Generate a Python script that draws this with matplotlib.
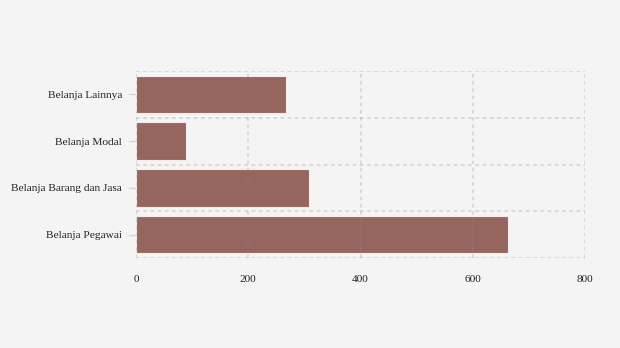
import matplotlib
matplotlib.use("Agg")
import matplotlib.pyplot as plt
import numpy as np

categories = ["Belanja Pegawai", "Belanja Barang dan Jasa", "Belanja Modal", "Belanja Lainnya"]
values = [663, 308, 89, 267]
xticks = [0, 200, 400, 600, 800]

plt.rcParams['font.family'] = ['Liberation Serif', 'DejaVu Serif']

fig = plt.figure(figsize=(6.2, 3.48), dpi=100, facecolor="#f4f4f4")
ax = fig.add_axes([136/620, (348-258)/348, (585-136)/620, (258-71)/348])
ax.set_facecolor("#f4f4f4")

y = np.arange(len(categories))
ax.barh(y, values, height=0.8, color="#96665e", edgecolor="#f5ebe9", linewidth=0.8, zorder=2)

ax.set_xlim(0, 800)
ax.set_ylim(-0.5, len(categories) - 0.5)
ax.set_xticks(xticks)
ax.set_xticklabels([str(t) for t in xticks])
ax.set_yticks(y)
ax.set_yticklabels(categories)

grid_kw = dict(color="#8a8a8a", alpha=0.27, linestyle=(0, (2, 2)), linewidth=1.3, zorder=3)
for t in xticks:
    ax.axvline(t, **grid_kw)
for e in np.arange(-0.5, len(categories), 1.0):
    ax.axhline(e, **grid_kw)

for s in ax.spines.values():
    s.set_visible(False)

ax.tick_params(axis='x', length=0, pad=12, labelsize=8.2, labelcolor="#222222")
ax.tick_params(axis='y', length=5, width=1, color="#d6d6d6", pad=5, labelsize=8.2, labelcolor="#222222")

fig.savefig("out.png", dpi=100, facecolor="#f4f4f4")
